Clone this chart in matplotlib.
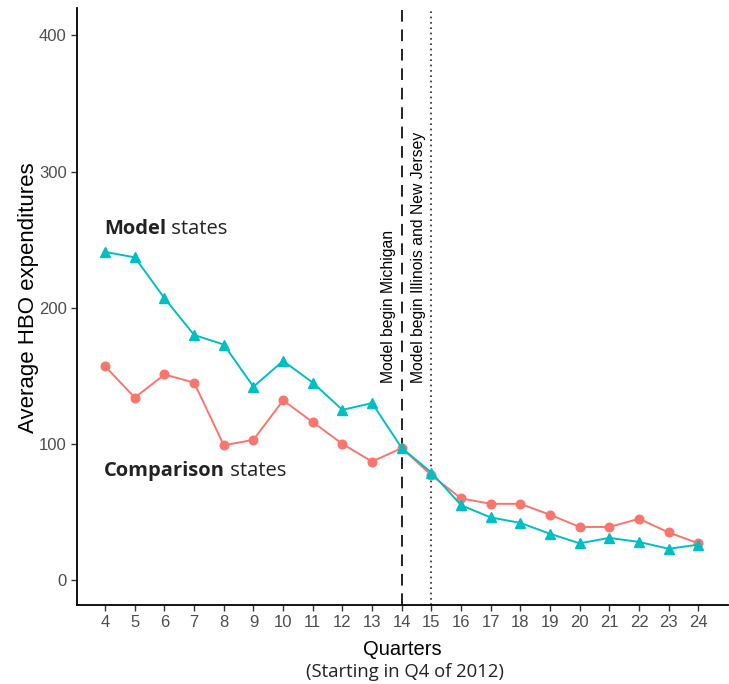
import matplotlib.pyplot as plt

quarters = list(range(4, 25))
model_states = [241, 237, 207, 180, 173, 142, 161, 145, 125, 130, 97,
                79, 55, 46, 42, 34, 27, 31, 28, 23, 26]
comparison_states = [157, 134, 151, 145, 99, 103, 132, 116, 100, 87, 97,
                     77, 60, 56, 56, 48, 39, 39, 45, 35, 27]
y_ticks = [0, 100, 200, 300, 400]

TEAL = "#00BFC4"
SALMON = "#F8766D"
LABEL_FONT = ["Open Sans", "DejaVu Sans"]

plt.rcParams["font.family"] = ["Liberation Sans", "DejaVu Sans"]

fig = plt.figure(figsize=(7.29, 6.84), dpi=100)
ax = fig.add_axes([0.1056, 0.1155, 0.893, 0.8725])

ax.plot(quarters, comparison_states, color=SALMON, marker="o", markersize=6.2,
        linewidth=1.4, zorder=3)
ax.plot(quarters, model_states, color=TEAL, marker="^", markersize=7.8,
        linewidth=1.4, zorder=4)

ax.axvline(14, color="#222222", linestyle=(0, (6, 4)), linewidth=1.4, zorder=2)
ax.axvline(15, color="#222222", linestyle=(0, (1, 2.2)), linewidth=1.2, zorder=2)

ax.text(13.55, 145, "Model begin Michigan", rotation=90, ha="center",
        va="bottom", fontsize=11.3)
ax.text(14.55, 145, "Model begin Illinois and New Jersey", rotation=90,
        ha="center", va="bottom", fontsize=11.3)

# group labels: bold first word, then the rest in regular weight
t1 = ax.text(3.97, 258, "Model", fontsize=14.5, fontweight="bold",
             family=LABEL_FONT, va="center", color="#222222")
ax.annotate(" states", xy=(1, 0), xycoords=t1, va="bottom", fontsize=14.5,
            family=LABEL_FONT, color="#222222")
t2 = ax.text(3.97, 80, "Comparison", fontsize=14.5, fontweight="bold",
             family=LABEL_FONT, va="center", color="#222222")
ax.annotate(" states", xy=(1, 0), xycoords=t2, va="bottom", fontsize=14.5,
            family=LABEL_FONT, color="#222222")

ax.set_xlim(3.05, 25.0)
ax.set_ylim(-18.3, 420)
ax.set_xticks(quarters)
ax.set_yticks(y_ticks)
ax.tick_params(axis="both", length=4, width=1, color="#333333",
               labelcolor="#4d4d4d", labelsize=12)

for side in ("top", "right"):
    ax.spines[side].set_visible(False)
for side in ("left", "bottom"):
    ax.spines[side].set_linewidth(1.3)
    ax.spines[side].set_color("black")

ax.set_ylabel("Average HBO expenditures", fontsize=16, labelpad=0)
ax.yaxis.label.set_y(0.515)
ax.set_xlabel("Quarters", fontsize=14.5, labelpad=7)
fig.text(0.5556, 0.0175, "(Starting in Q4 of 2012)", ha="center", va="center",
         fontsize=13.3, family=LABEL_FONT, color="#222222")

fig.savefig("out.png", dpi=100)
